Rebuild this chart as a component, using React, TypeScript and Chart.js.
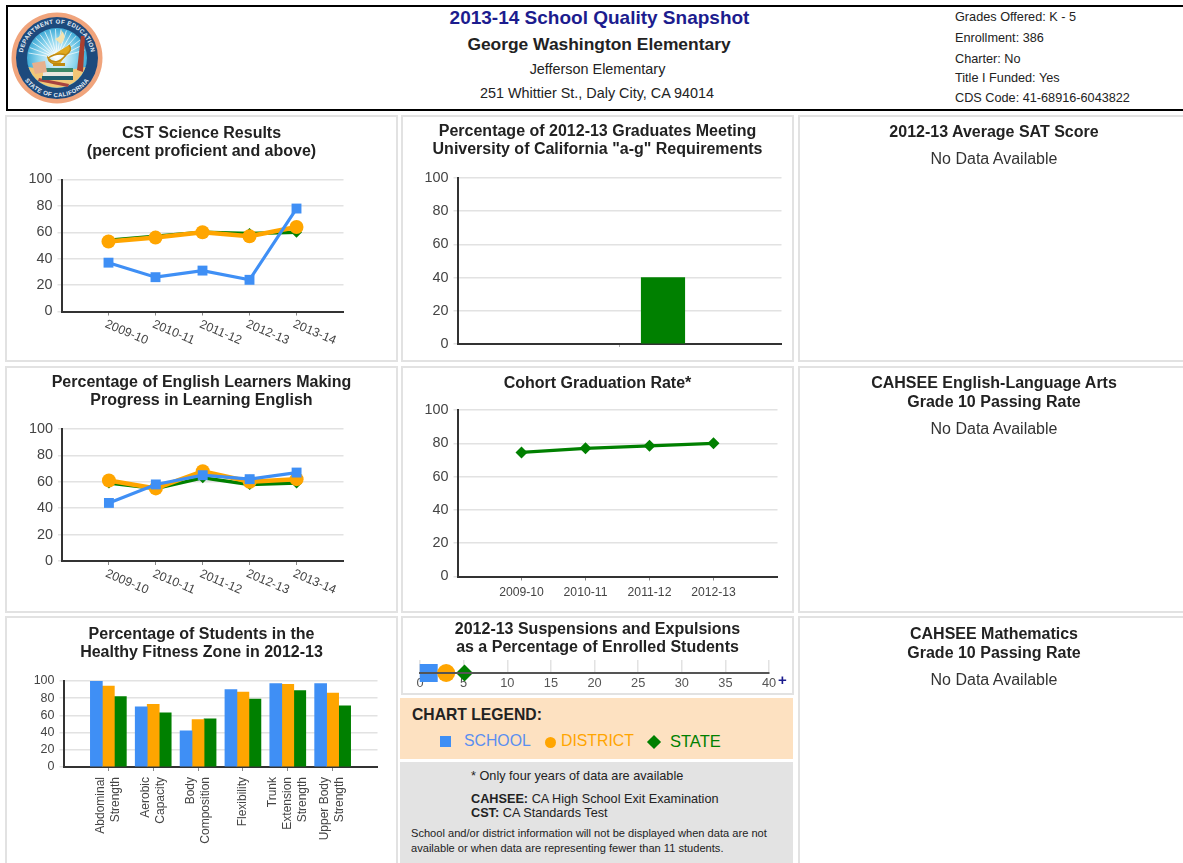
import React, { useEffect, useRef } from "react";
import { Chart, registerables } from "chart.js";

Chart.register(...registerables);
Chart.defaults.font.family = "'Liberation Sans', Arial, sans-serif";

const FONT = "'Liberation Sans', Arial, sans-serif";
const BLUE = "#3f8ff5";
const ORANGE = "#ffa500";
const GREEN = "#008000";

const years5 = ["2009-10", "2010-11", "2011-12", "2012-13", "2013-14"];
const years4 = ["2009-10", "2010-11", "2011-12", "2012-13"];

const scienceSchool = [37, 26, 31, 24, 78];
const scienceDistrict = [53, 56, 60, 57, 64];
const scienceState = [54, 57, 60, 59, 60];

const learnersSchool = [44, 58, 65, 62, 67];
const learnersDistrict = [61, 55, 68, 60, 62];
const learnersState = [59, 55, 63, 58, 59];

const cohortState = [74.5, 77, 78.5, 80];

const gradYears = [""];
const gradSchool = [null];
const gradDistrict = [null];
const gradState = [40];

const fitnessCategories = [
  ["Abdominal", "Strength"],
  ["Aerobic", "Capacity"],
  ["Body", "Composition"],
  ["Flexibility"],
  ["Trunk", "Extension", "Strength"],
  ["Upper Body", "Strength"],
];
const fitnessSchool = [100, 70, 42, 90, 97, 97];
const fitnessDistrict = [94, 73, 55, 87, 96, 86];
const fitnessState = [82, 63, 56, 79, 89, 71];

const suspensionSchool = [1.0];
const suspensionDistrict = [3.0];
const suspensionState = [5.1];

const pad = (a: any[], blank: any = null) => [blank, ...a, blank];

type Rect = { x: number; y: number; w: number; h: number };
type Plot = { l: number; t: number; r: number; b: number };

const titleOpts = (lines: string[], center: number, panel: Rect, plotTop: number, size = 16) => {
  const lh = 18;
  const top = center + 0.8 - panel.y - lh / 2;
  const total = plotTop - panel.y;
  return {
    display: true,
    text: lines,
    color: "#222",
    font: { size, weight: "bold" as const, lineHeight: lh / size },
    padding: { top, bottom: total - top - lines.length * lh },
  };
};

// An empty axis that only holds the space between the plot and the panel edge,
// so that the title stays centred on the whole panel.
const spacer = (position: "left" | "right", width: number) => ({
  type: "linear" as const,
  position,
  display: true,
  afterFit: (s: any) => {
    s.width = width;
  },
  border: { display: false },
  grid: { display: false },
  ticks: { display: false },
});

const baseAxes = (panel: Rect, plot: Plot, yFont: number, xExtra: any) => ({
  x: {
    offset: false,
    afterFit: (s: any) => {
      s.height = panel.y + panel.h - plot.b;
    },
    border: { color: "#333", width: 2 },
    grid: {
      offset: false,
      drawOnChartArea: false,
      drawTicks: true,
      tickLength: 4,
      tickColor: (c: any) => (c.tick && c.tick.label && c.tick.label.length ? "#888" : "rgba(0,0,0,0)"),
    },
    ...xExtra,
  },
  y: {
    min: 0,
    max: 100,
    afterFit: (s: any) => {
      s.width = plot.l - panel.x;
    },
    border: { color: "#333", width: 2 },
    grid: { color: "#e2e2e2", lineWidth: 1.5, tickLength: 4 },
    ticks: { stepSize: 20, autoSkip: false, color: "#444", padding: 5, font: { size: yFont } },
  },
  yEdge: spacer("right", panel.x + panel.w - plot.r),
});

const tiltedLabels = {
  id: "tiltedLabels",
  afterDraw(chart: any) {
    const s = chart.scales.x;
    const { ctx } = chart;
    ctx.save();
    ctx.fillStyle = "#444";
    ctx.font = `12.4px ${FONT}`;
    ctx.textAlign = "center";
    ctx.textBaseline = "middle";
    s.ticks.forEach((t: any, i: number) => {
      if (!t.label) return;
      ctx.save();
      ctx.translate(s.getPixelForTick(i) + 18, chart.chartArea.bottom + 21);
      ctx.rotate((23 * Math.PI) / 180);
      ctx.fillText(t.label, 0, 0);
      ctx.restore();
    });
    ctx.restore();
  },
};

// Vertical tick labels whose lines are centred on the tick, top-aligned under the axis.
const uprightLabels = {
  id: "uprightLabels",
  afterDraw(chart: any) {
    const s = chart.scales.x;
    const { ctx } = chart;
    const lh = 15;
    ctx.save();
    ctx.fillStyle = "#444";
    ctx.font = `12px ${FONT}`;
    ctx.textAlign = "right";
    ctx.textBaseline = "middle";
    s.ticks.forEach((t: any, i: number) => {
      const lines: string[] = Array.isArray(t.label) ? t.label : t.label ? [t.label] : [];
      lines.forEach((line, j) => {
        ctx.save();
        ctx.translate(s.getPixelForTick(i) + (j - (lines.length - 1) / 2) * lh, chart.chartArea.bottom + 10);
        ctx.rotate(-Math.PI / 2);
        ctx.fillText(line, 0, 0);
        ctx.restore();
      });
    });
    ctx.restore();
  },
};

const lineSet = (label: string, data: number[], color: string, style: string, radius: number, width: number) => ({
  label,
  data: pad(data),
  borderColor: color,
  backgroundColor: color,
  borderWidth: width,
  pointStyle: style,
  pointRadius: radius,
  pointBorderWidth: 0,
  tension: 0,
  clip: false,
});

const commonOpts = {
  responsive: false,
  animation: false as const,
  events: [] as any[],
};

const threeLine = (panel: Rect, plot: Plot, titleLines: string[], center: number, s: number[], d: number[], st: number[]) => ({
  type: "line" as const,
  data: {
    labels: pad(years5, ""),
    datasets: [
      lineSet("School", s, BLUE, "rect", 7, 3.2),
      lineSet("District", d, ORANGE, "circle", 7, 4.5),
      lineSet("State", st, GREEN, "rectRot", 5.5, 3.5),
    ],
  },
  options: {
    ...commonOpts,
    plugins: { legend: { display: false }, title: titleOpts(titleLines, center, panel, plot.t) },
    scales: baseAxes(panel, plot, 14.4, { ticks: { display: false, autoSkip: false } }),
  },
  plugins: [tiltedLabels],
});

// Panels
const pScience: Rect = { x: 5, y: 115, w: 393, h: 247 };
const pGrad: Rect = { x: 401, y: 115, w: 393, h: 247 };
const pSat: Rect = { x: 798, y: 115, w: 392, h: 247 };
const pLearners: Rect = { x: 5, y: 366, w: 393, h: 247 };
const pCohort: Rect = { x: 401, y: 366, w: 393, h: 247 };
const pEla: Rect = { x: 798, y: 366, w: 392, h: 247 };
const pFitness: Rect = { x: 5, y: 616, w: 393, h: 255 };
const pSusp: Rect = { x: 401, y: 616, w: 393, h: 79 };
const pMath: Rect = { x: 798, y: 616, w: 392, h: 255 };

const plotScience: Plot = { l: 61.5, t: 179.5, r: 343.5, b: 311.5 };
const plotLearners: Plot = { l: 62, t: 429, r: 343.5, b: 561 };
const plotGrad: Plot = { l: 457.5, t: 178, r: 781.5, b: 344 };
const plotCohort: Plot = { l: 457.5, t: 410, r: 777.5, b: 576.5 };
const plotFitness: Plot = { l: 63.5, t: 681, r: 377.5, b: 767 };
const plotSusp: Plot = { l: 420, t: 660, r: 769, b: 673 };

const configs = {
  science: () => threeLine(pScience, plotScience, ["CST Science Results", "(percent proficient and above)"], 133, scienceSchool, scienceDistrict, scienceState),
  learners: () => threeLine(pLearners, plotLearners, ["Percentage of English Learners Making", "Progress in Learning English"], 382, learnersSchool, learnersDistrict, learnersState),
  grad: () => ({
    type: "bar" as const,
    data: {
      labels: gradYears,
      datasets: [
        { label: "School", data: gradSchool, backgroundColor: BLUE, barThickness: 43.5 },
        { label: "District", data: gradDistrict, backgroundColor: ORANGE, barThickness: 43.5 },
        { label: "State", data: gradState, backgroundColor: GREEN, barThickness: 43.5 },
      ],
    },
    options: {
      ...commonOpts,
      plugins: {
        legend: { display: false },
        title: titleOpts(["Percentage of 2012-13 Graduates Meeting", 'University of California "a-g" Requirements'], 131, pGrad, plotGrad.t),
      },
      scales: baseAxes(pGrad, plotGrad, 14.4, {
        offset: true,
        ticks: { display: false, autoSkip: false },
        grid: { offset: false, drawOnChartArea: false, drawTicks: true, tickLength: 3, tickColor: "#aaa" },
      }),
    },
  }),
  cohort: () => ({
    type: "line" as const,
    data: {
      labels: pad(years4, ""),
      datasets: [lineSet("State", cohortState, GREEN, "rectRot", 6, 3.2)],
    },
    options: {
      ...commonOpts,
      plugins: { legend: { display: false }, title: titleOpts(["Cohort Graduation Rate*"], 383, pCohort, plotCohort.t) },
      scales: baseAxes(pCohort, plotCohort, 14.4, {
        ticks: { autoSkip: false, maxRotation: 0, minRotation: 0, color: "#444", padding: 5, font: { size: 12.2 } },
      }),
    },
  }),
  fitness: () => ({
    type: "bar" as const,
    data: {
      labels: pad(fitnessCategories, ""),
      datasets: [
        { label: "School", data: pad(fitnessSchool), backgroundColor: BLUE, barThickness: 12 },
        { label: "District", data: pad(fitnessDistrict), backgroundColor: ORANGE, barThickness: 12 },
        { label: "State", data: pad(fitnessState), backgroundColor: GREEN, barThickness: 12 },
      ],
    },
    options: {
      ...commonOpts,
      plugins: {
        legend: { display: false },
        title: titleOpts(["Percentage of Students in the", "Healthy Fitness Zone in 2012-13"], 633.5, pFitness, plotFitness.t),
      },
      scales: baseAxes(pFitness, plotFitness, 12.5, {
        ticks: { display: false, autoSkip: false },
      }),
    },
    plugins: [uprightLabels],
  }),
  suspension: () => ({
    type: "scatter" as const,
    data: {
      datasets: [
        { label: "State", data: suspensionState.map((x) => ({ x, y: 0 })), backgroundColor: GREEN, pointStyle: "rectRot", pointRadius: 8.5, pointBorderWidth: 0, clip: false },
        { label: "District", data: suspensionDistrict.map((x) => ({ x, y: 0 })), backgroundColor: ORANGE, pointStyle: "circle", pointRadius: 9, pointBorderWidth: 0, clip: false },
        { label: "School", data: suspensionSchool.map((x) => ({ x, y: 0 })), backgroundColor: BLUE, pointStyle: "rect", pointRadius: 12.7, pointBorderWidth: 0, clip: false },
      ],
    },
    options: {
      ...commonOpts,
      plugins: {
        legend: { display: false },
        title: titleOpts(["2012-13 Suspensions and Expulsions", "as a Percentage of Enrolled Students"], 628.7, pSusp, plotSusp.t),
      },
      scales: {
        x: {
          type: "linear" as const,
          min: 0,
          max: 40,
          afterFit: (s: any) => {
            s.height = pSusp.y + pSusp.h - plotSusp.b;
          },
          border: { color: "#555", width: 2, z: 1 },
          grid: { color: "#e2e2e2", lineWidth: 1.5, drawTicks: false },
          ticks: { stepSize: 5, color: "#555", padding: 3, font: { size: 12.8 }, maxRotation: 0 },
        },
        y: { display: false, min: 0, max: 1 },
        yStart: spacer("left", plotSusp.l - pSusp.x),
        yEdge: spacer("right", pSusp.x + pSusp.w - plotSusp.r),
      },
    },
  }),
};

function ChartPanel({ rect, make }: { rect: Rect; make: () => any }) {
  const ref = useRef<HTMLCanvasElement>(null);
  useEffect(() => {
    const chart = new Chart(ref.current as HTMLCanvasElement, make());
    return () => chart.destroy();
  }, []);
  return (
    <div style={{ position: "absolute", left: rect.x, top: rect.y, width: rect.w, height: rect.h, background: "#fff", border: "2px solid #e2e2e2", boxSizing: "border-box" }}>
      <canvas ref={ref} width={rect.w} height={rect.h} style={{ position: "absolute", left: -2, top: -2, width: rect.w, height: rect.h, display: "block" }} />
    </div>
  );
}

const T = ({ x, y, children, style, center }: any) => (
  <div
    style={{
      position: "absolute",
      left: center ? x - 400 : x,
      width: center ? 800 : undefined,
      top: y - 10,
      height: 20,
      lineHeight: "20px",
      whiteSpace: "nowrap",
      textAlign: center ? "center" : "left",
      ...style,
    }}
  >
    {children}
  </div>
);

function EmptyPanel({ rect, lines, centers, noData }: { rect: Rect; lines: string[]; centers: number[]; noData: number }) {
  const cx = rect.x + 196;
  return (
    <>
      <div style={{ position: "absolute", left: rect.x, top: rect.y, width: rect.w, height: rect.h, background: "#fff", border: "2px solid #e2e2e2", boxSizing: "border-box" }} />
      {lines.map((l, i) => (
        <T key={l} center x={cx} y={centers[i]} style={{ fontSize: 16, fontWeight: "bold", color: "#222" }}>
          {l}
        </T>
      ))}
      <T center x={cx} y={noData} style={{ fontSize: 16, color: "#333" }}>
        No Data Available
      </T>
    </>
  );
}

function Seal() {
  const rays = Array.from({ length: 15 }, (_, i) => -170 + i * 11);
  return (
    <svg width={92} height={92} viewBox="0 0 92 92" style={{ position: "absolute", left: 11, top: 12 }}>
      <defs>
        <radialGradient id="sky" cx="50%" cy="50%" r="55%">
          <stop offset="0%" stopColor="#ffffff" />
          <stop offset="55%" stopColor="#8fd6ee" />
          <stop offset="100%" stopColor="#2a9fd0" />
        </radialGradient>
        <path id="arcTop" d="M 11.5 46 A 34.5 34.5 0 0 1 80.5 46" />
        <path id="arcBot" d="M 7 46 A 39 39 0 0 0 85 46" />
      </defs>
      <circle cx="46" cy="46" r="45.5" fill="#f0a47c" />
      <circle cx="46" cy="46" r="41" fill="#1d4a7d" />
      <circle cx="46" cy="46" r="30" fill="url(#sky)" />
      {rays.map((a) => (
        <line key={a} x1="46" y1="46" x2={46 + 29 * Math.cos((a * Math.PI) / 180)} y2={46 + 29 * Math.sin((a * Math.PI) / 180)} stroke="#ffffff" strokeWidth="1" opacity="0.7" />
      ))}
      <path d="M 17.5 55 Q 46 62 74.5 55 A 30 30 0 0 1 17.5 55 Z" fill="#f2c777" />
      <path d="M 28 66 L 58 72 L 57 75 L 27 69 Z" fill="#a8433f" />
      <rect x="34" y="56" width="28" height="4" fill="#3c8a68" />
      <rect x="32" y="60" width="30" height="4" fill="#e8e8e0" />
      <rect x="31" y="64" width="31" height="4" fill="#1d5f70" />
      <path d="M 21 51 L 34 49 L 36 60 L 24 62 Z" fill="#e8b08e" />
      <path d="M 37 46 Q 46 40 55 43 Q 62 38 58 33 M 48 53 Q 38 52 37 46 Q 45 55 55 43" fill="#e0a920" stroke="#c08a10" strokeWidth="1.5" />
      <rect x="42" y="51" width="12" height="3" fill="#c08a10" />
      <path d="M 44 27 Q 52 24 50 18 Q 57 24 50 32 Z" fill="#f3e3b0" />
      <path d="M 70 24 L 74 24 L 72 60 L 66 58 Z" fill="#a83f2f" />
      <text fontSize="6" fontWeight="bold" fill="#e8f0f8" fontFamily={FONT} letterSpacing="0.4">
        <textPath href="#arcTop" startOffset="50%" textAnchor="middle">
          DEPARTMENT OF EDUCATION
        </textPath>
      </text>
      <text fontSize="6" fontWeight="bold" fill="#e8f0f8" fontFamily={FONT} letterSpacing="0.4">
        <textPath href="#arcBot" startOffset="50%" textAnchor="middle">
          STATE OF CALIFORNIA
        </textPath>
      </text>
    </svg>
  );
}

const infoLines = ["Grades Offered: K - 5", "Enrollment: 386", "Charter: No", "Title I Funded: Yes", "CDS Code: 41-68916-6043822"];
const infoY = [16.5, 37.5, 58.5, 77.5, 97.5];

export default function App() {
  return (
    <div style={{ position: "absolute", left: 0, top: 0, width: 1183, height: 863, overflow: "hidden", background: "#fff", fontFamily: FONT, filter: "blur(0.4px)" }}>
      <div style={{ position: "absolute", left: 6, top: 5, width: 1190, height: 106, border: "2px solid #000", boxSizing: "border-box" }} />
      <Seal />
      <T center x={599.5} y={18} style={{ fontSize: 19, fontWeight: "bold", color: "#1c1c8e" }}>
        2013-14 School Quality Snapshot
      </T>
      <T center x={599} y={44} style={{ fontSize: 17.4, fontWeight: "bold", color: "#222" }}>
        George Washington Elementary
      </T>
      <T center x={597.5} y={69} style={{ fontSize: 14.4, color: "#222" }}>
        Jefferson Elementary
      </T>
      <T center x={597} y={92.5} style={{ fontSize: 14.4, color: "#222" }}>
        251 Whittier St., Daly City, CA 94014
      </T>
      {infoLines.map((l, i) => (
        <T key={l} x={955} y={infoY[i]} style={{ fontSize: 12.7, color: "#222" }}>
          {l}
        </T>
      ))}

      <ChartPanel rect={pScience} make={configs.science} />
      <ChartPanel rect={pGrad} make={configs.grad} />
      <EmptyPanel rect={pSat} lines={["2012-13 Average SAT Score"]} centers={[131.8]} noData={158.5} />
      <ChartPanel rect={pLearners} make={configs.learners} />
      <ChartPanel rect={pCohort} make={configs.cohort} />
      <EmptyPanel rect={pEla} lines={["CAHSEE English-Language Arts", "Grade 10 Passing Rate"]} centers={[382.8, 401.8]} noData={428.5} />
      <ChartPanel rect={pFitness} make={configs.fitness} />
      <ChartPanel rect={pSusp} make={configs.suspension} />
      <T x={778} y={680} style={{ fontSize: 15, fontWeight: "bold", color: "#1c1c8e" }}>
        +
      </T>
      <EmptyPanel rect={pMath} lines={["CAHSEE Mathematics", "Grade 10 Passing Rate"]} centers={[633.8, 652.8]} noData={679.5} />

      <div style={{ position: "absolute", left: 400, top: 698, width: 393, height: 61, background: "#fde1c1" }} />
      <T x={412} y={715} style={{ fontSize: 15.7, fontWeight: "bold", color: "#222" }}>
        CHART LEGEND:
      </T>
      <div style={{ position: "absolute", left: 440, top: 736, width: 11, height: 11, background: BLUE }} />
      <T x={464} y={741} style={{ fontSize: 15.8, color: "#5a8ff0" }}>
        SCHOOL
      </T>
      <div style={{ position: "absolute", left: 545, top: 737, width: 11, height: 11, borderRadius: "50%", background: ORANGE }} />
      <T x={561} y={741} style={{ fontSize: 15.8, color: ORANGE }}>
        DISTRICT
      </T>
      <div style={{ position: "absolute", left: 649, top: 737, width: 10, height: 10, background: GREEN, transform: "rotate(45deg)" }} />
      <T x={670} y={741} style={{ fontSize: 16.5, color: GREEN }}>
        STATE
      </T>

      <div style={{ position: "absolute", left: 400, top: 762, width: 393, height: 101, background: "#e3e3e3" }} />
      <T x={471} y={776} style={{ fontSize: 12.7, color: "#222" }}>
        * Only four years of data are available
      </T>
      <T x={471} y={799} style={{ fontSize: 12.7, color: "#222" }}>
        <b>CAHSEE:</b> CA High School Exit Examination
      </T>
      <T x={471} y={813} style={{ fontSize: 12.7, color: "#222" }}>
        <b>CST:</b> CA Standards Test
      </T>
      <T x={411} y={833} style={{ fontSize: 11.1, color: "#222" }}>
        School and/or district information will not be displayed when data are not
      </T>
      <T x={411} y={848} style={{ fontSize: 11.1, color: "#222" }}>
        available or when data are representing fewer than 11 students.
      </T>
    </div>
  );
}
